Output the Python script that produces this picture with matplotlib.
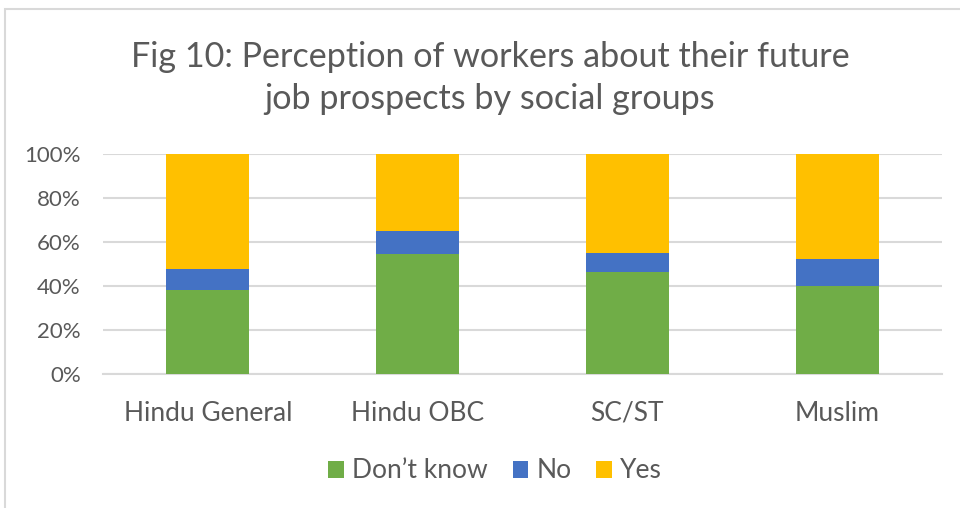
import matplotlib
matplotlib.use("Agg")
import matplotlib.pyplot as plt
from matplotlib.patches import Rectangle
import numpy as np

categories = ["Hindu General", "Hindu OBC", "SC/ST", "Muslim"]
dont_know = [38.3, 54.5, 46.5, 40.1]
no = [9.4, 10.8, 8.8, 12.2]
yes = [52.3, 34.7, 44.7, 47.7]
series_names = ["Don\u2019t know", "No", "Yes"]
colors = ["#70AD47", "#4472C4", "#FFC000"]
title = "Fig 10: Perception of workers about their future\njob prospects by social groups"

plt.rcParams['font.family'] = ['Lato', 'DejaVu Sans']
txt = "#595959"

fig = plt.figure(figsize=(9.6, 5.08), dpi=100)
fig.patches.append(Rectangle((5/960, -0.1), 1.2, 1 - 9/508 + 0.1, transform=fig.transFigure,
                             fill=False, edgecolor="#D9D9D9", linewidth=1.5))
ax = fig.add_axes([103/960, 1 - 374.3/508, (942 - 103)/960, 220/508])

x = np.arange(len(categories))
w = 0.395
bottom = np.zeros(len(categories))
for vals, name, c in zip([dont_know, no, yes], series_names, colors):
    ax.bar(x, vals, w, bottom=bottom, color=c, label=name, zorder=3)
    bottom += np.array(vals)

ax.set_xlim(-0.5, len(categories) - 0.5)
ax.set_ylim(0, 100)
ax.set_yticks(np.arange(0, 101, 20))
ax.set_yticklabels([f"{v}%" for v in range(0, 101, 20)])
ax.set_xticks(x)
ax.set_xticklabels(categories)
ax.tick_params(axis='both', length=0, labelcolor=txt)
ax.tick_params(axis='y', labelsize=16, pad=16)
ax.tick_params(axis='x', labelsize=19, pad=19)
ax.grid(axis='y', color="#D9D9D9", linewidth=1.5, zorder=0)
for s in ax.spines.values():
    s.set_visible(False)
ax.spines['bottom'].set_visible(True)
ax.spines['bottom'].set_color("#D9D9D9")
ax.spines['bottom'].set_linewidth(1.5)

fig.text(490/960, 1 - 78/508, title, ha='center', va='center', fontsize=24.6,
         color=txt, linespacing=1.4)

leg = fig.legend(loc='center', bbox_to_anchor=(495/960, 1 - 471/508), ncol=3, frameon=False,
                 fontsize=19, handlelength=0.6, handleheight=0.6, handletextpad=0.3,
                 columnspacing=0.95, labelcolor=txt)

fig.savefig("out.png", dpi=100)
